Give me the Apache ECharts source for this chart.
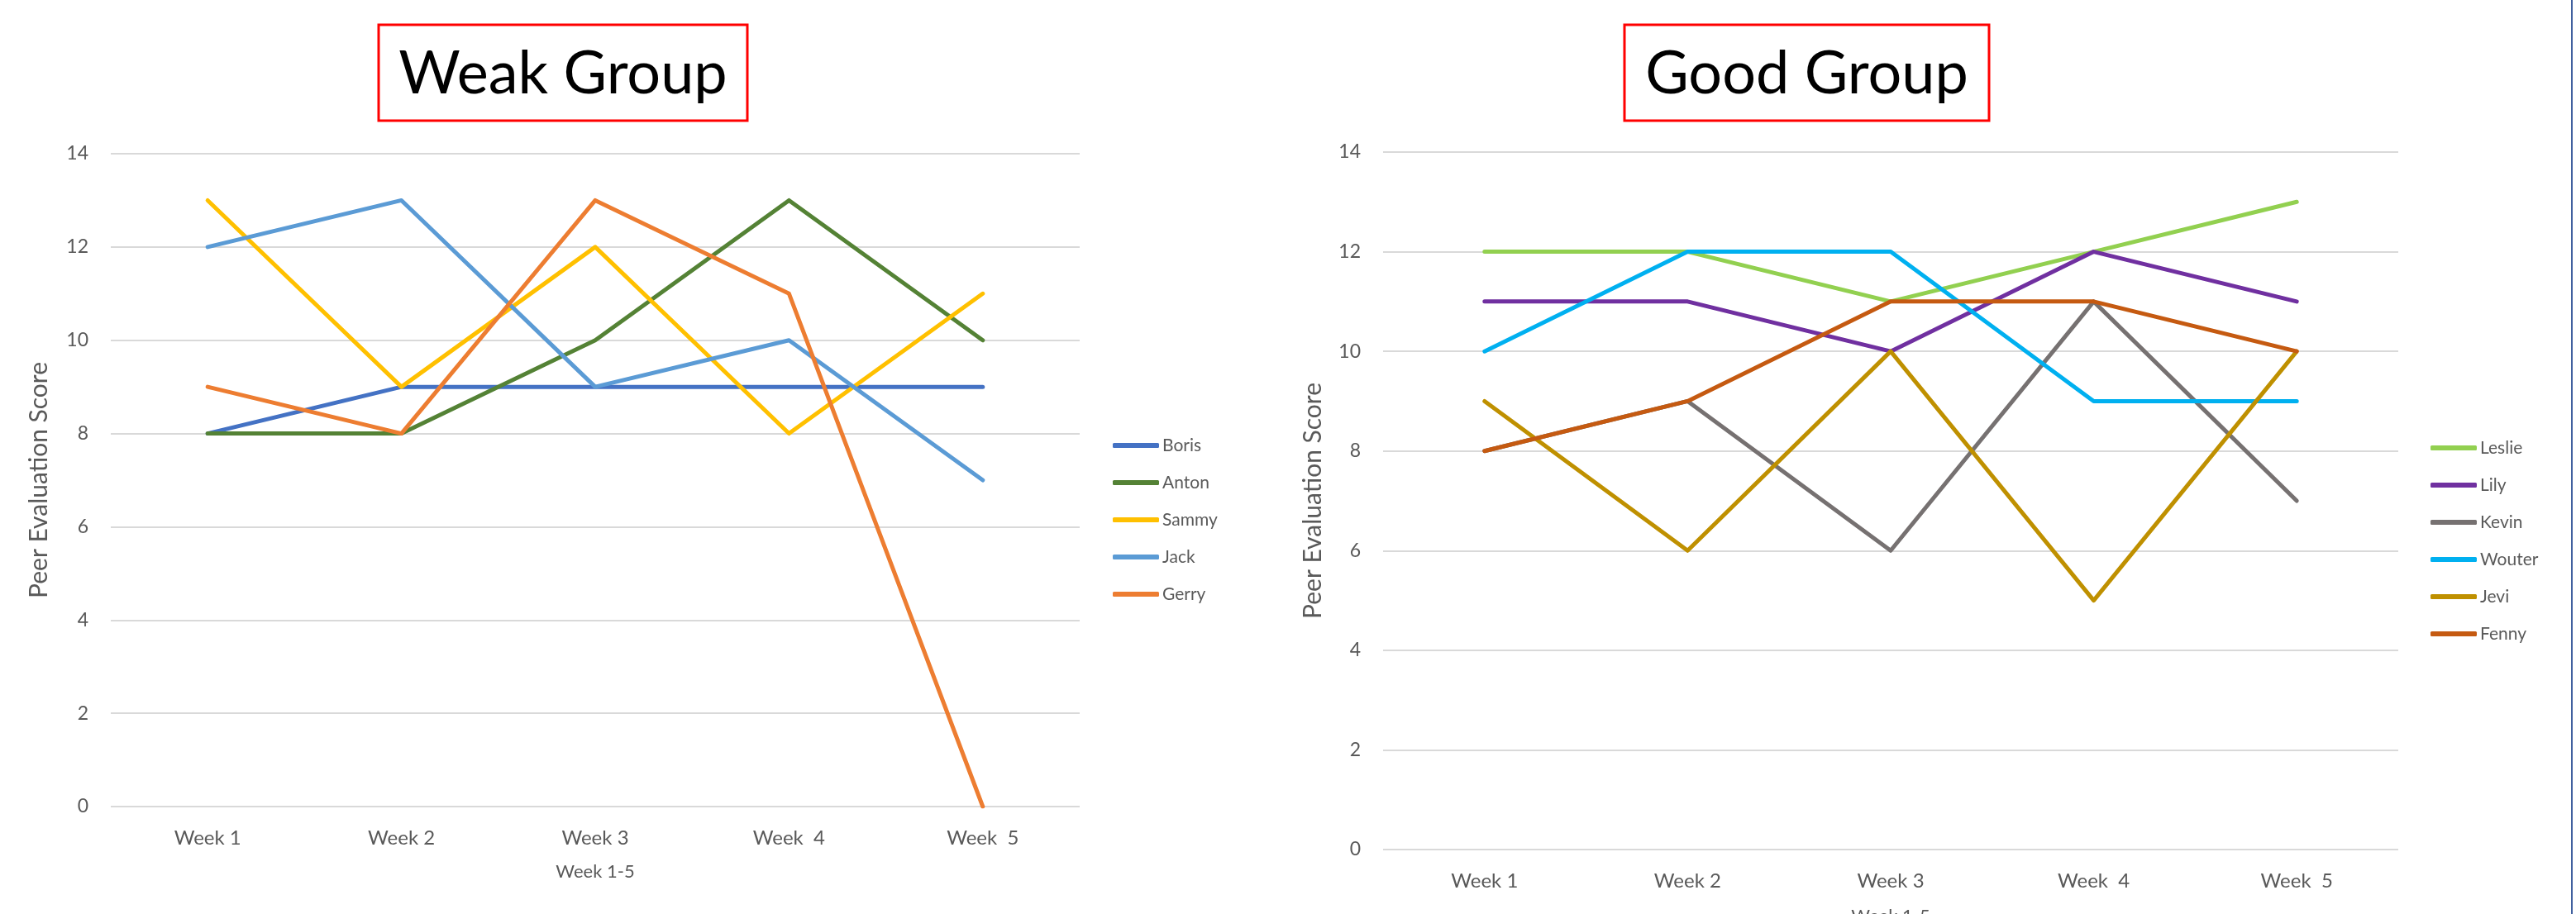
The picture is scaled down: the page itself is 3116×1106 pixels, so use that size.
<!DOCTYPE html>
<html>
<head>
<meta charset="utf-8">
<title>Peer Evaluation - Weak Group / Good Group</title>
<script src="https://cdn.jsdelivr.net/npm/echarts@6/dist/echarts.min.js"></script>
<style>
	html, body { margin: 0; padding: 0; background: #fff; }
	#chart { width: 3116px; height: 1106px; }
</style>
</head>
<body>
<div id="chart"></div>
<script>
	// 类目 / 刻度
	const weeks = ['Week 1', 'Week 2', 'Week 3', 'Week  4', 'Week  5'];
	const yTicks = [0, 2, 4, 6, 8, 10, 12, 14];

	// Weak Group
	const weakNames = ['Boris', 'Anton', 'Sammy', 'Jack', 'Gerry'];
	const boris = [8, 9, 9, 9, 9];
	const anton = [8, 8, 10, 13, 10];
	const sammy = [13, 9, 12, 8, 11];
	const jack = [12, 13, 9, 10, 7];
	const gerry = [9, 8, 13, 11, 0];
	const weakColors = ['#4472C4', '#548235', '#FFC000', '#5B9BD5', '#ED7D31'];

	// Good Group
	const goodNames = ['Leslie', 'Lily', 'Kevin', 'Wouter', 'Jevi', 'Fenny'];
	const leslie = [12, 12, 11, 12, 13];
	const lily = [11, 11, 10, 12, 11];
	const kevin = [8, 9, 6, 11, 7];
	const wouter = [10, 12, 12, 9, 9];
	const jevi = [9, 6, 10, 5, 10];
	const fenny = [8, 9, 11, 11, 10];
	const goodColors = ['#92D050', '#7030A0', '#767171', '#00B0F0', '#BF9000', '#C55A11'];

	const weakData = [boris, anton, sammy, jack, gerry];
	const goodData = [leslie, lily, kevin, wouter, jevi, fenny];

	const FONT = 'Lato, "Open Sans", sans-serif';
	const textColor = '#595959';

	const myChart = echarts.init(document.getElementById('chart'));

	const makeX = (gridIndex, nameGap) => ({
		type: 'category',
		gridIndex: gridIndex,
		data: weeks,
		boundaryGap: true,
		name: 'Week 1-5',
		nameLocation: 'middle',
		nameGap: nameGap,
		nameTextStyle: { fontFamily: FONT, fontSize: 22, color: textColor },
		axisLine: { show: false },
		axisTick: { show: false },
		axisLabel: { margin: 26, fontFamily: FONT, fontSize: 24, color: textColor },
	});

	const makeY = (gridIndex, nameGap) => ({
		type: 'value',
		gridIndex: gridIndex,
		min: yTicks[0],
		max: yTicks[yTicks.length - 1],
		interval: 2,
		name: 'Peer Evaluation Score',
		nameLocation: 'middle',
		nameGap: nameGap,
		nameTextStyle: { fontFamily: FONT, fontSize: 30, color: textColor },
		axisLine: { show: false },
		axisTick: { show: false },
		axisLabel: { margin: 27, fontFamily: FONT, fontSize: 23, color: textColor },
		splitLine: { show: true, lineStyle: { color: '#D9D9D9', width: 2 } },
	});

	const makeSeries = (names, dataList, colors, axisIndex) => names.map((name, i) => ({
		name: name,
		type: 'line',
		xAxisIndex: axisIndex,
		yAxisIndex: axisIndex,
		data: dataList[i],
		symbol: 'none',
		color: colors[i],
		lineStyle: { width: 5, color: colors[i], cap: 'round', join: 'round' },
		emphasis: { disabled: true },
	}));

	const makeLegend = (names, left, top) => ({
		data: names,
		orient: 'vertical',
		left: left,
		top: top,
		padding: 0,
		icon: 'roundRect',
		itemWidth: 56,
		itemHeight: 6,
		itemGap: 21,
		textStyle: { fontFamily: FONT, fontSize: 21, color: textColor, lineHeight: 24, padding: [0, 0, 0, -1] },
	});

	// 标题框
	const titleBox = (x, y, w, h, text) => ({
		type: 'group',
		children: [
			{ type: 'rect', shape: { x: x, y: y, width: w, height: h }, style: { fill: '#fff', stroke: '#FF0000', lineWidth: 3 } },
			{ type: 'text', x: x + w / 2, y: y + h / 2 + 2, style: { text: text, fontFamily: FONT, fontSize: 72, fill: '#000', align: 'center', verticalAlign: 'middle' } },
		],
	});

	const option = {
		backgroundColor: '#fff',
		animation: false,
		grid: [
			{ left: 134, top: 186, width: 1172, height: 790, outerBoundsMode: 'none' },
			{ left: 1673, top: 184, width: 1228, height: 844, outerBoundsMode: 'none' },
		],
		xAxis: [makeX(0, 68), makeX(1, 70)],
		yAxis: [makeY(0, 72), makeY(1, 70)],
		legend: [
			makeLegend(weakNames, 1346, 527),
			makeLegend(goodNames, 2940, 530),
		],
		series: makeSeries(weakNames, weakData, weakColors, 0)
			.concat(makeSeries(goodNames, goodData, goodColors, 1)),
		graphic: [
			titleBox(458, 30, 446, 116, 'Weak Group'),
			titleBox(1965, 30, 441, 116, 'Good Group'),
			// 右侧边框
			{ type: 'line', shape: { x1: 3111, y1: 0, x2: 3111, y2: 1106 }, style: { stroke: '#41619F', lineWidth: 2 } },
		],
	};

	myChart.setOption(option);
</script>
</body>
</html>
